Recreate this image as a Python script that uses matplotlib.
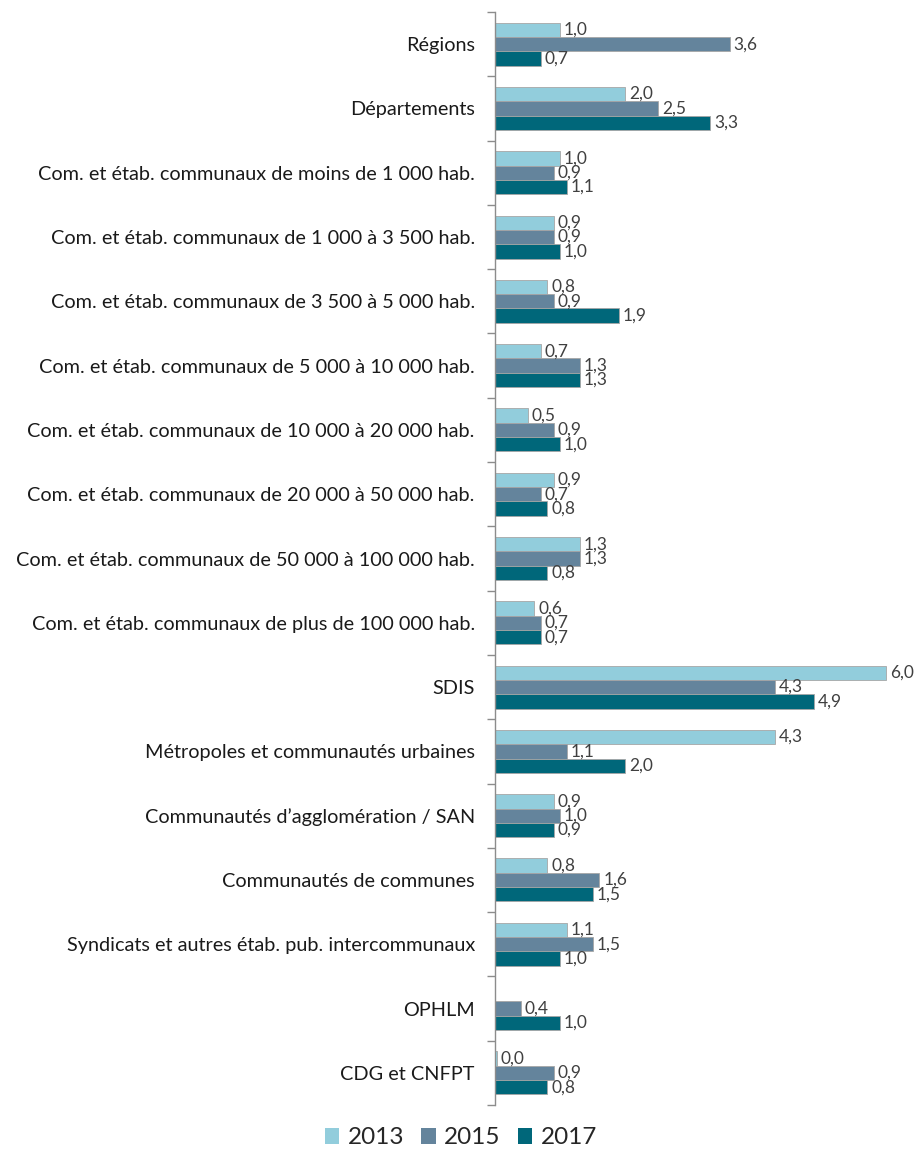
import numpy as np
import matplotlib
matplotlib.use("Agg")
import matplotlib.pyplot as plt
from matplotlib.patches import Patch

categories = [
    "Régions",
    "Départements",
    "Com. et étab. communaux de moins de 1 000 hab.",
    "Com. et étab. communaux de 1 000 à 3 500 hab.",
    "Com. et étab. communaux de 3 500 à 5 000 hab.",
    "Com. et étab. communaux de 5 000 à 10 000 hab.",
    "Com. et étab. communaux de 10 000 à 20 000 hab.",
    "Com. et étab. communaux de 20 000 à 50 000 hab.",
    "Com. et étab. communaux de 50 000 à 100 000 hab.",
    "Com. et étab. communaux de plus de 100 000 hab.",
    "SDIS",
    "Métropoles et communautés urbaines",
    "Communautés d\u2019agglomération / SAN",
    "Communautés de communes",
    "Syndicats et autres étab. pub. intercommunaux",
    "OPHLM",
    "CDG et CNFPT",
]
series_names = ["2013", "2015", "2017"]
v2013 = [1.0, 2.0, 1.0, 0.9, 0.8, 0.7, 0.5, 0.9, 1.3, 0.6, 6.0, 4.3, 0.9, 0.8, 1.1, np.nan, 0.03]
v2015 = [3.6, 2.5, 0.9, 0.9, 0.9, 1.3, 0.9, 0.7, 1.3, 0.7, 4.3, 1.1, 1.0, 1.6, 1.5, 0.4, 0.9]
v2017 = [0.7, 3.3, 1.1, 1.0, 1.9, 1.3, 1.0, 0.8, 0.8, 0.7, 4.9, 2.0, 0.9, 1.5, 1.0, 1.0, 0.8]

colors = ["#92CDDC", "#64849C", "#00677A"]
font = "Lato"
plt.rcParams["font.family"] = [font, "DejaVu Sans"]

fig = plt.figure(figsize=(9.16, 11.49), dpi=100)
ax = fig.add_axes([495/916, 1 - 1105/1149, 417/916, (1105 - 12)/1149])

n = len(categories)
y = np.arange(n)
h = 0.223
for k, (vals, col) in enumerate(zip([v2013, v2015, v2017], colors)):
    vals = np.array(vals, dtype=float)
    pos = y + (k - 1) * h
    mask = ~np.isnan(vals)
    ax.barh(pos[mask], vals[mask], height=h, color=col, edgecolor="#A6A6A6",
            linewidth=0.6, label=series_names[k])
    for p, v in zip(pos[mask], vals[mask]):
        ax.text(v + 0.06, p, f"{v:.1f}".replace(".", ","), va="center", ha="left",
                fontsize=12.5, color="#404040")

ax.set_xlim(0, 6.4)
ax.set_ylim(n - 0.5, -0.5)
ax.set_xticks([])
ax.set_yticks(np.arange(n + 1) - 0.5)
ax.set_yticklabels([])
ax.set_yticks(y, minor=True)
ax.set_yticklabels(categories, minor=True, fontsize=14.3, color="#1A1A1A")
ax.tick_params(axis="y", which="major", length=6, color="#8C8C8C", width=1)
ax.tick_params(axis="y", which="minor", length=0, pad=14.5)
for s in ["top", "right", "bottom"]:
    ax.spines[s].set_visible(False)
ax.spines["left"].set_color("#8C8C8C")
ax.spines["left"].set_linewidth(1)

handles = [Patch(facecolor=c, edgecolor="none") for c in colors]
fig.legend(handles, series_names, loc="center", bbox_to_anchor=(461/916, 1 - 1138/1149),
           ncol=3, frameon=False, fontsize=17.5, handlelength=0.6, handleheight=0.6,
           handletextpad=0.35, columnspacing=0.7, labelcolor="#262626")

fig.savefig("out.png", dpi=100)
